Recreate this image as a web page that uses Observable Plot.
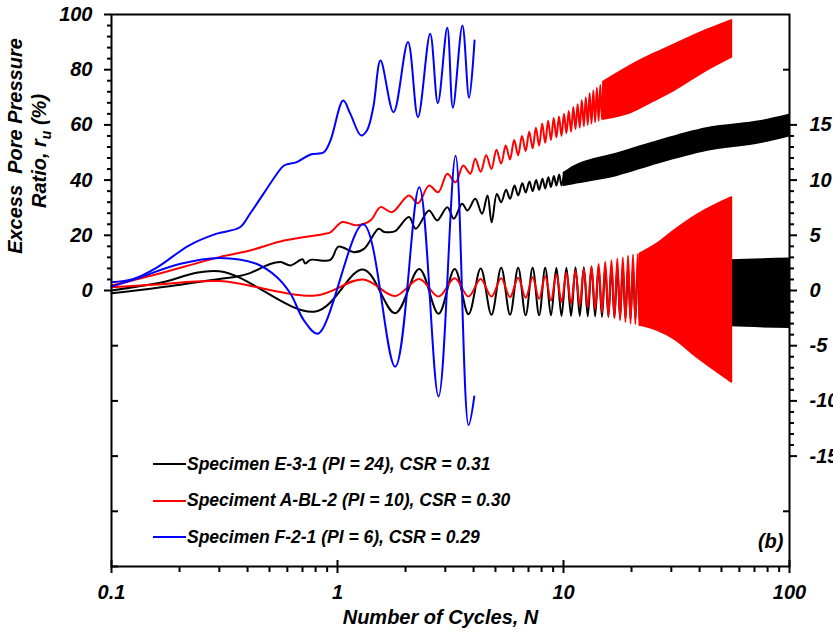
<!DOCTYPE html>
<html><head><meta charset="utf-8">
<script src="https://cdn.jsdelivr.net/npm/d3@7"></script>
<script src="https://cdn.jsdelivr.net/npm/@observablehq/plot@0.6"></script>
<style>
body{margin:0;background:#fff;}
#wrap{position:relative;width:833px;height:636px;overflow:hidden;font-family:"Liberation Sans",Arial,sans-serif;font-weight:bold;font-style:italic;color:#000;}
.leg{position:absolute;left:153px;height:24px;display:flex;align-items:center;white-space:nowrap;font-size:17.5px;}
.leg .sw{display:inline-block;width:33px;height:2px;margin-right:1px;}
</style></head><body><div id="wrap"></div><script>
// ---- axis ticks / labels ----
const cycleTicks = [0.1, 1, 10, 100];
const cycleTickLabels = ["0.1", "1", "10", "100"];
const cycleMinor = [0.2,0.3,0.4,0.5,0.6,0.7,0.8,0.9,2,3,4,5,6,7,8,9,20,30,40,50,60,70,80,90];
const ruTicks = [0, 20, 40, 60, 80, 100];
const ruLowerTicks = [-20, -40, -60, -80, -100];
const strainTicks = [-15, -10, -5, 0, 5, 10, 15];
const strainOuterTicks = [-20, 20];
const strainPerRu = 0.25; // right axis: 5 % strain <-> 20 % r_u

// ---- Specimen E-3-1 (black) ----
const ruE31 = [[0.1,-1.0],[0.16,1.0],[0.3,4.2],[0.36,5.1],[0.41,6.3],[0.5,9.5],[0.56,10.3],[0.62,9.1],[0.7,11.3],[0.72,9.8],[0.76,11.1],[0.93,11.1],[1.01,15.9],[1.18,13.9],[1.31,15.1],[1.52,22.4],[1.6,21.3],[1.69,21.1],[1.8,21.5],[2.07,26.6],[2.22,22.4],[2.54,29],[2.76,25.4],[3.06,30.2],[3.27,26],[3.56,31.4],[3.76,29],[4.07,33.2],[4.36,27.8],[4.61,34.4],[4.81,24.7],[5.07,35],[5.3,32],[5.57,36.5],[5.8,33.2],[6.07,38],[6.3,34.4],[6.57,38.9],[6.8,35.5],[7.07,39.5],[7.3,36],[7.57,40],[7.8,36.5],[8.07,40.5],[8.3,37],[8.57,41],[8.8,37.5],[9.07,41.5],[9.3,38],[9.57,42],[9.8,38],[10.07,42.5]];
const ruE31Band = [[10.07,38,42.5],[11.1,38.7,44.7],[17.3,41.7,49.5],[24.2,45.3,53.1],[43,50.7,58.6],[75,53.6,61.2],[100,56,63.5]];
const strainE31 = [[0.1,0],[0.16,0.65],[0.3,1.75],[0.8,-1.9],[1.3,1.9],[1.8,-2.05],[2.3,1.95],[2.8,-2.1],[3.3,1.95],[3.8,-2.15],[4.3,2.0],[4.8,-2.2],[5.3,2.05],[5.8,-2.2],[6.3,2.05],[6.8,-2.25],[7.3,2.05],[7.8,-2.25],[8.3,2.05],[8.8,-2.25],[9.3,2.05],[9.8,-2.3],[10.3,2.05],[10.8,-2.3],[11.3,2.1],[11.8,-2.3],[12.3,2.1],[12.8,-2.35],[13.3,2.1],[13.8,-2.35],[14.3,2.1],[14.8,-2.4],[15.3,2.1],[15.8,-2.4],[16.3,2.15],[16.8,-2.45],[17.3,2.15],[17.8,-2.5],[18.3,2.2],[18.8,-2.55],[19.3,2.2],[19.8,-2.55],[20.3,2.2],[20.8,-2.6],[21.3,2.25],[21.8,-2.6]];
const strainE31Band = [[21.8,-2.6,2.25],[30,-2.8,2.4],[55.5,-3.2,2.7],[100,-3.35,2.85]];

// ---- Specimen A-BL-2 (red) ----
const ruABL2 = [[0.1,1.8],[0.16,6.0],[0.3,12.1],[0.41,14.5],[0.58,18.1],[0.87,20.5],[0.93,21.1],[1.05,24.8],[1.22,23.6],[1.4,25.4],[1.55,30.2],[1.74,28.4],[2.07,34.4],[2.27,31.6],[2.54,38],[2.79,35.6],[3.06,42.3],[3.33,39.2],[3.6,45.3],[3.87,42.3],[4.07,47.7],[4.3,43],[4.55,49],[4.8,44],[5.05,51],[5.3,46],[5.55,52.5],[5.8,47.5],[6.05,54.5],[6.3,49],[6.55,56],[6.8,50.5],[7.05,57.5],[7.3,51.5],[7.55,59],[7.8,52.5],[8.05,60.5],[8.3,53.5],[8.55,61.5],[8.8,54.5],[9.05,62.5],[9.3,55.5],[9.55,63],[9.8,56],[10.05,64],[10.3,57],[10.55,65],[10.8,57.5],[11.05,66.5],[11.3,58.5],[11.55,67.5],[11.8,59],[12.05,69],[12.3,59.5],[12.55,70],[12.8,60],[13.05,71.5],[13.3,60.5],[13.55,72.5],[13.8,61],[14.05,73.5],[14.3,61.5],[14.55,74.5],[14.8,62],[15.05,75.5]];
const ruABL2Band = [[15.05,62,75.5],[20,64.5,81.5],[25,68.5,85.5],[31,72.5,89],[43,79.7,94.2],[55.5,84.5,97.8]];
const strainABL2 = [[0.1,0.3],[0.16,0.55],[0.3,0.85],[0.8,-0.45],[1.3,1.0],[1.8,-0.5],[2.3,1.05],[2.8,-0.55],[3.3,1.1],[3.8,-0.55],[4.3,1.05],[4.8,-0.55],[5.3,1.1],[5.8,-0.6],[6.3,1.15],[6.8,-0.65],[7.3,1.2],[7.8,-0.75],[8.3,1.3],[8.8,-0.9],[9.3,1.45],[9.8,-1.05],[10.3,1.6],[10.8,-1.2],[11.3,1.8],[11.8,-1.35],[12.3,1.95],[12.8,-1.5],[13.3,2.2],[13.8,-1.7],[14.3,2.4],[14.8,-2.0],[15.3,2.6],[15.8,-2.3],[16.3,2.75],[16.8,-2.5],[17.3,2.9],[17.8,-2.7],[18.3,3.0],[18.8,-2.85],[19.3,3.15],[19.8,-3.0],[20.3,3.25],[20.8,-3.05],[21.3,3.3],[21.8,-3.15]];
const strainABL2Band = [[21.8,-3.15,3.3],[26,-3.6,4.2],[31,-4.4,5.4],[39,-6.05,6.8],[55.5,-8.3,8.4]];

// ---- Specimen F-2-1 (blue) ----
const ruF21 = [[0.1,3.0],[0.125,4.2],[0.16,8.5],[0.22,16.3],[0.29,20.5],[0.37,22.9],[0.41,27.8],[0.47,35],[0.54,42.3],[0.58,45.3],[0.66,46.5],[0.76,49.3],[0.87,50.1],[0.93,54.3],[1.06,68.8],[1.14,64],[1.27,56.2],[1.35,58],[1.44,66.4],[1.55,83.3],[1.77,64.6],[2.05,90],[2.27,62.8],[2.57,93],[2.78,67.9],[3.06,95.2],[3.24,66.2],[3.57,96],[3.82,69.8],[4.04,90.6]];
const strainF21 = [[0.1,0.35],[0.13,1.1],[0.2,2.4],[0.3,2.95],[0.44,2.4],[0.54,1.2],[0.62,-0.3],[0.71,-2.7],[0.82,-3.9],[1.3,6.0],[1.8,-6.9],[2.3,9.35],[2.8,-9.6],[3.33,12.2],[3.8,-12.2],[4.03,-9.6]];

const series = [
  {name:"Specimen E-3-1 (PI = 24), CSR = 0.31", color:"#000000"},
  {name:"Speciment A-BL-2 (PI = 10), CSR = 0.30", color:"#ff0000"},
  {name:"Specimen F-2-1 (PI = 6), CSR = 0.29", color:"#0000ff"}
];

const S = v => v / strainPerRu;
const lineRu = (data, color) => Plot.line(data, {x: d => d[0], y: d => d[1], stroke: color, strokeWidth: 2, curve: "catmull-rom"});
const lineSt = (data, color) => Plot.line(data, {x: d => d[0], y: d => S(d[1]), stroke: color, strokeWidth: 2, curve: "catmull-rom"});
const bandRu = (data, color) => Plot.areaY(data, {x: d => d[0], y1: d => d[1], y2: d => d[2], fill: color, stroke: color, strokeWidth: 2, curve: "monotone-x"});
const bandSt = (data, color) => Plot.areaY(data, {x: d => d[0], y1: d => S(d[1]), y2: d => S(d[2]), fill: color, stroke: color, strokeWidth: 2, curve: "monotone-x"});
const blank = () => "";
const cycleLabel = d => cycleTickLabels[cycleTicks.findIndex(t => Math.abs(t - d) < 1e-9)] ?? "";

const minorRu = d3.range(4, 100, 4).filter(v => v % 20 !== 0);
const minorSt = d3.range(-15, 16, 1).filter(v => v % 5 !== 0).map(S);

const plot = Plot.plot({
  width: 833, height: 636,
  marginLeft: 111, marginRight: 44, marginTop: 14, marginBottom: 70,
  x: {type: "log", domain: [0.1, 100], label: null},
  y: {domain: [-100, 100], label: null},
  style: {fontFamily: "'Liberation Sans', Arial, sans-serif", fontSize: "20px", fontWeight: "bold", fontStyle: "italic", background: "white", color: "black"},
  marks: [
    lineSt(strainE31, series[0].color), bandSt(strainE31Band, series[0].color),
    lineRu(ruE31, series[0].color), bandRu(ruE31Band, series[0].color),
    lineRu(ruABL2, series[1].color), bandRu(ruABL2Band, series[1].color),
    lineSt(strainABL2, series[1].color), bandSt(strainABL2Band, series[1].color),
    lineRu(ruF21, series[2].color),
    lineSt(strainF21, series[2].color),
    Plot.frame({stroke: "black", strokeWidth: 2}),
    // left axis
    Plot.axisY(ruTicks, {anchor: "left", tickSize: 7, tickPadding: 12, strokeWidth: 2, tickFormat: d => String(d), label: null}),
    Plot.axisY(minorRu, {anchor: "left", tickSize: 4, strokeWidth: 2, tickFormat: blank, label: null}),
    Plot.axisY(ruLowerTicks, {anchor: "left", tickSize: 7, dx: 7, strokeWidth: 2, tickFormat: blank, label: null}),
    // right axis
    Plot.axisY(strainTicks.map(S), {anchor: "right", tickSize: 7, tickPadding: 13, strokeWidth: 2, tickFormat: d => String(d * strainPerRu), label: null}),
    Plot.axisY(minorSt, {anchor: "right", tickSize: 4, strokeWidth: 2, tickFormat: blank, label: null}),
    Plot.axisY(strainOuterTicks.map(S), {anchor: "right", tickSize: 7, dx: -7, strokeWidth: 2, tickFormat: blank, label: null}),
    // bottom axis
    Plot.axisX(cycleTicks, {anchor: "bottom", tickSize: 13, dy: -6, strokeWidth: 2, tickFormat: blank, label: null}),
    Plot.axisX(cycleTicks, {anchor: "bottom", tickSize: 0, tickPadding: 18, tickFormat: cycleLabel, label: null}),
    Plot.axisX(cycleMinor, {anchor: "bottom", tickSize: 6, strokeWidth: 2, tickFormat: blank, label: null}),
    Plot.text(["Number of Cycles, N"], {frameAnchor: "bottom", dy: 57, dx: -10, fontSize: 20}),
    Plot.text(["(b)"], {frameAnchor: "bottom-right", textAnchor: "end", dx: -6, dy: -19, fontSize: 20})
  ]
});

const wrap = document.getElementById("wrap");
wrap.appendChild(plot);

// y-axis title (two lines, rotated, with subscript)
const svg = d3.select(plot);
const yt = svg.append("g").attr("font-size", 20).attr("font-weight", "bold").attr("font-style", "italic").attr("fill", "black");
yt.append("text").attr("transform", "translate(22,146) rotate(-90)").attr("text-anchor", "middle").style("white-space", "pre").text("Excess  Pore Pressure");
const t2 = yt.append("text").attr("transform", "translate(46,151) rotate(-90)").attr("text-anchor", "middle");
t2.append("tspan").text("Ratio, r");
t2.append("tspan").attr("font-size", 14).attr("dy", 5).text("u");
t2.append("tspan").attr("dy", -5).text(" (%)");

// legend inside the plot
const legendY = [464, 500.5, 537];
series.forEach((s, i) => {
  const row = document.createElement("div");
  row.className = "leg";
  row.style.top = (legendY[i] - 12) + "px";
  const sw = document.createElement("span");
  sw.className = "sw";
  sw.style.background = s.color;
  row.appendChild(sw);
  row.appendChild(document.createTextNode(s.name));
  wrap.appendChild(row);
});
</script></body></html>
